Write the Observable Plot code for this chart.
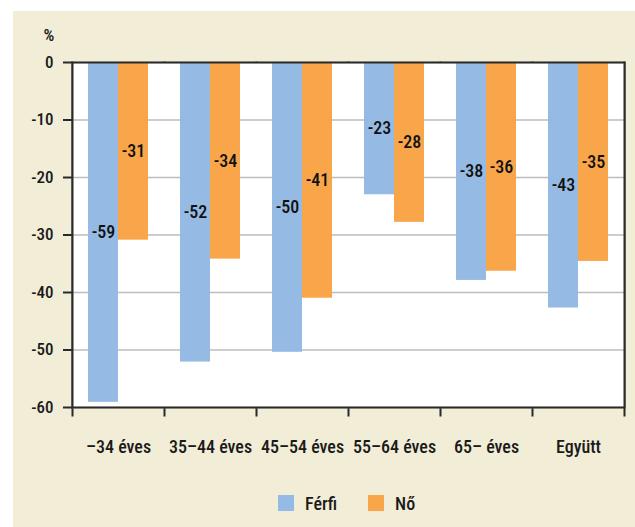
<!DOCTYPE html>
<html>
<head>
<meta charset="utf-8">
<script src="https://cdn.jsdelivr.net/npm/d3@7"></script>
<script src="https://cdn.jsdelivr.net/npm/@observablehq/plot@0.6"></script>
<style>
html, body { margin: 0; padding: 0; background: #ffffff; }
#wrap { position: relative; width: 635px; height: 527px; overflow: hidden;
  font-family: "Roboto Condensed", "Open Sans", sans-serif; font-weight: 500; }
#bg { position: absolute; left: 13px; top: 11px; right: 0; bottom: 0; background: #f1edd6; }
#chart { position: absolute; left: 0; top: 0; }
#legend { position: absolute; left: 278px; top: 490px; }
#legend .lg-swatches { margin: 0; min-height: 26px; }
#legend .lg-swatch { margin-right: 31px; }
#legend .lg-swatch > svg { margin-right: 11px; }
</style>
</head>
<body>
<div id="wrap"><div id="bg"></div><div id="chart"></div><div id="legend"></div></div>
<script>
const categories = ["–34 éves", "35–44 éves", "45–54 éves", "55–64 éves", "65– éves", "Együtt"];
const series = ["Férfi", "Nő"];
const ferfi = [-59.1, -52.1, -50.4, -23.0, -37.9, -42.7];
const no = [-30.9, -34.2, -41.0, -27.8, -36.3, -34.6];
const yTicks = [0, -10, -20, -30, -40, -50, -60];
const colors = ["#95bae3", "#f9a64a"];

const FONT = '"Roboto Condensed", "Open Sans", sans-serif';
const dark = "#2a2a2a";

const data = categories.flatMap((c, i) => [
  {cat: c, sex: series[0], value: ferfi[i]},
  {cat: c, sex: series[1], value: no[i]}
]);

const chart = Plot.plot({
  width: 635,
  height: 470,
  marginLeft: 71,
  marginRight: 11,
  marginTop: 62,
  marginBottom: 63,
  style: {background: "transparent", fontFamily: FONT, fontWeight: 500, color: "#1a1a1a", overflow: "visible"},
  fx: {domain: categories, padding: 0, label: null},
  x: {domain: series, paddingInner: 0, paddingOuter: 0.484, axis: null},
  y: {domain: [-60, 0], label: null},
  color: {domain: series, range: colors},
  marks: [
    Plot.frame({anchor: "left", insetBottom: -8, stroke: dark, strokeWidth: 2}),
    Plot.frame({anchor: "right", insetBottom: -8, stroke: dark, strokeWidth: 2, facet: "super"}),
    Plot.frame({fill: "white", shapeRendering: "crispEdges"}),
    Plot.gridY(yTicks, {stroke: "#bdbdbd", strokeOpacity: 1, strokeWidth: 1.5}),
    Plot.barY(data, {fx: "cat", x: "sex", y: "value", fill: "sex"}),
    Plot.text(data, {fx: "cat", x: "sex", y: d => d.value / 2, text: d => String(Math.round(d.value)), fontSize: 18, fontWeight: 500, fill: "#111"}),
    Plot.frame({stroke: dark, strokeWidth: 2, facet: "super"}),
    Plot.axisY(yTicks, {anchor: "left", tickSize: 9, tickPadding: 10, fontSize: 17, tickFormat: d => String(d), label: null, stroke: dark, strokeWidth: 2}),
    Plot.axisFx({anchor: "bottom", tickSize: 0, tickPadding: 33, fontSize: 18, label: null}),
    Plot.text(["%"], {facet: "super", frameAnchor: "top-left", dx: -29, dy: -22, textAnchor: "start", lineAnchor: "bottom", fontSize: 17, fill: "#1a1a1a"})
  ]
});
document.getElementById("chart").appendChild(chart);

const leg = Plot.legend({
  color: {domain: series, range: colors},
  legend: "swatches",
  swatchSize: 16,
  className: "lg",
  style: {fontFamily: FONT, fontWeight: 500, fontSize: "18px", color: "#1a1a1a"}
});
document.getElementById("legend").appendChild(leg);
</script>
</body>
</html>
